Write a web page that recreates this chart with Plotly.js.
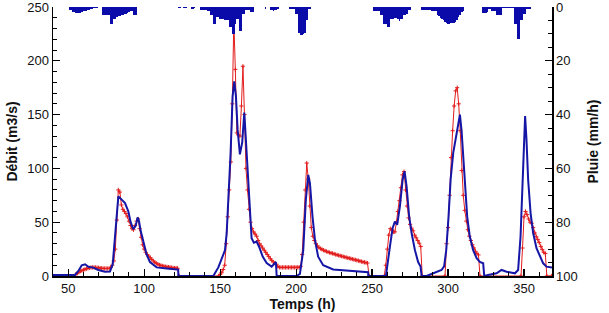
<!DOCTYPE html>
<html>
<head>
<meta charset="utf-8">
<script src="https://cdn.plot.ly/plotly-3.0.1.min.js"></script>
<style>html,body{margin:0;padding:0;background:#fff;}#chart{width:609px;height:313px;}</style>
</head>
<body>
<div id="chart"></div>
<script>
// Observed discharge (m3/s), hourly within events
var obsT = [40,54,
 55,56,57,58,59,60,61,62,63,64,65,66,67,68,69,70,71,72,73,74,75,76,77,78,79,80,81,82,83,84,85,86,87,88,89,90,91,92,93,94,95,96,97,98,99,100,101,102,103,104,105,106,107,108,109,110,111,112,113,114,115,116,117,118,119,120,121,122,
 123,149,
 150,151,152,153,154,155,156,157,158,159,160,161,162,163,164,165,166,167,168,169,170,171,172,173,174,175,176,177,178,179,180,181,182,183,184,185,186,187,188,189,190,191,192,193,194,195,196,197,198,199,200,201,202,203,204,205,206,207,208,209,210,211,212,213,214,215,216,217,218,219,220,221,222,223,224,225,226,227,228,229,230,231,232,233,234,235,236,237,238,239,240,241,242,243,244,245,246,247,
 248,258,
 259,260,261,262,263,264,265,266,267,268,269,270,271,272,273,274,275,276,277,278,279,280,281,282,
 283,298,
 299,300,301,302,303,304,305,306,307,308,309,310,311,312,313,314,315,316,317,318,319,320,
 321,348,
 349,350,351,352,353,354,355,356,357,358,359,360,361,362,363,364,
 365,368];
var obsQ = [0,0,
 1.5,2.5,3.5,4.5,5,5.6,6.2,6.8,7.2,7.6,7.9,8,8,8,7.8,7.6,7.4,7.2,7,7,7,7,7,8,10,14,25,52,80,78,66,62,60,58,55,51,47,44,43,47,51,53,44,36,29,25,22,20,18.5,17,15.5,14,12.8,11.8,11,10.3,9.8,9.4,9,8.7,8.5,8.3,8,7.8,7.6,7.4,7.3,7.2,
 0,0,
 1.5,3,6,10,30,55,80,106,160,237,192,133,131,130,158,195,150,100,80,62,50,44,41,39,37,33,30,28,26,24,22,20,18,16,14.5,13,12,11,9,8,8,8,8,8,8,8,8,8,8,8,8,8,8,9,20,50,80,105,90,65,45,37,33,30,28,26.5,25.5,24.8,24,23.4,22.8,22.3,21.8,21.3,21,20.5,20,19.6,19.2,18.8,18.4,18,17.6,17.2,16.8,16.5,16.1,15.7,15.3,15,14.6,14.2,13.8,13.4,13,12.7,12.4,12,
 0,0,
 10,25,38,44,43,41,41,50,60,70,82,94,97,80,65,54,48,44.5,42,38,35.5,33,30.5,27.5,
 0,0,
 30,45,75,110,135,158,172,175,160,135,98,75,61,51,43,37,33,29,26,23,21,19.6,
 0,0,
 26,55,60,57,53,50,49,45,40,36.5,34,31,27.5,24.5,22,21,
 0,0];

// Simulated discharge (m3/s)
var simT = [40,54.5,56.7,58.9,61.1,63.3,66.5,69.8,74.2,77.5,79.3,80.8,81.9,83,85.2,87.4,89.6,91.1,92.8,94.4,95.7,96.6,97.7,99.4,101.6,103.8,108.2,114.8,122.4,122.5,
 145.5,148.8,151,153.2,154.3,155.3,156.9,158.2,159.3,160.4,161.5,163,164.5,165.9,167,168.5,169.6,170.7,172.2,174,175.7,178,180.6,183.9,186.7,187.2,
 200.3,202.5,204.7,206.4,208,209.1,210.8,212.4,214.5,217.8,224.4,235.4,246.4,247.4,247.5,
 259.1,261.7,263.5,265,266.5,268.3,270.1,271.4,272.7,274.4,276,278.2,280.3,281.9,282.6,
 285.9,290.2,292.4,295.7,297.4,298.8,300.3,301.7,303.4,305.1,306.6,307.8,308.9,309.9,311.3,312.6,314.3,316.5,318.8,320.9,323.1,323.8,
 326.4,331.9,335.2,338.5,344,346.1,347.7,348.8,349.9,350.7,351.6,352.7,354.3,356,358.2,360.4,362.6,364.8,367,368.4];
var simQ = [1,1,4.7,10,10.9,8.5,7.8,5.6,4,4.2,11,35,60,74,71,67.7,60,50,43.5,46.6,54.4,51,42,31,20,13,8,7,6,0,
 0,8,15.5,24,40,68,115,167,181,167,136,113,124,152,124,80,52,35,31,32,27,18,12,8.7,13,0,
 0,2,24,71,94,86,55,33.6,18,10,6,5,3.7,3.5,0,
 0,27,44.5,50.7,47.6,64.6,89.5,97.3,83.3,55.3,40,24,13,8.7,0,
 0,2.5,4,5.6,9,24,55,90,114.5,130,142.4,150,134.6,111,80,55,36.7,24,16.5,13,11.8,0,
 1,2.5,5.6,4,2.5,5.6,36.7,83.3,130,148.6,127,89.5,58.5,40,25.8,18,11.8,8.7,8,8];

// Rainfall (mm/h), hourly
var rainT = [51,52,53,54,55,56,57,58,59,60,61,62,63,64,65,66,67,68,69,
 73,74,75,76,77,78,79,80,81,82,83,84,85,86,87,88,89,90,91,92,93,94,95,
 123,124,126,127,128,131,132,133,
 137,138,139,140,141,142,143,144,145,146,147,148,149,150,151,152,153,154,155,156,157,158,159,160,161,162,163,164,165,166,167,168,169,170,171,172,
 180,183,184,185,186,187,188,
 196,197,198,199,200,201,202,203,204,205,206,207,208,209,
 251,252,253,254,255,256,257,258,259,260,261,262,263,264,265,266,267,268,269,270,271,272,273,274,275,
 283,284,285,286,287,288,289,290,291,292,293,294,295,296,297,298,299,300,301,302,303,304,305,306,307,308,309,310,
 323,324,325,326,327,328,329,330,331,332,333,334,335,336,337,338,339,340,341,342,343,344,345,346,347,348,349,350,351,352,353,354];
var rainV = [1.2,1.2,1.9,1.9,2.2,2.2,2.2,2.2,2,1.5,1.5,1.3,1.2,1,0.6,0.6,0.3,0.3,0.3,
 2.8,2.8,3,3,3,6.3,6.3,4.3,4.3,3.8,3.3,3.3,3,2.8,2.6,2.5,2.2,2,1.6,1.5,3,3,2.8,
 0.3,0.3,0.3,0.3,0.3,0.6,0.6,0.3,
 1,1.2,1.2,1.2,1.2,1.3,1.5,3,3.1,6.2,6.2,3.7,3.7,4.4,4.4,4.4,5,5,5,7.5,7.5,10,10,6.2,4.4,4.4,9,9,2.5,2.5,1.2,1.2,1.2,1.9,1.9,1.9,
 0.6,1,1.2,1.5,1.2,1,0.8,
 0.6,0.6,0.6,0.6,2.5,2.5,9.5,10.5,10.5,10,9.5,5,0.6,0.6,
 1.5,1.5,1.5,1.5,1.5,3,3,6.5,6.5,7.5,7.5,4.5,4.5,4.5,4,4,4.5,5.2,4.4,4.4,3,2.8,2.5,1.2,1.2,
 1,1,1,1,1,1,1.5,1.5,1.5,1.5,3,3.5,4,4.5,5,5.5,6,6.2,6.2,6,6,6,5.5,5,3.7,3,1.9,1.5,
 2.3,2.3,2.3,2,0.6,0.6,1.5,1.5,1.5,2.8,2.8,2.8,2.8,0.5,0.5,0.5,0.3,0.3,0.3,0.3,0.3,6.5,6.5,11.9,11.9,5,5,2.5,2.5,0.6,0.6,0.6];

var BLUE = '#1515a6', RED = '#e31c1c', BAR = '#0b0baa';
var FONT = 'Liberation Sans, Arial, sans-serif';

var traces = [
  {type:'bar', x:rainT, y:rainV, width:1, xaxis:'x', yaxis:'y2',
   marker:{color:BAR, line:{width:0}}, hoverinfo:'skip', showlegend:false},
  {type:'scatter', mode:'lines+markers', x:obsT, y:obsQ, xaxis:'x', yaxis:'y',
   line:{color:RED, width:1},
   marker:{symbol:'cross-thin', size:3, color:RED, line:{color:RED, width:1}}, showlegend:false},
  {type:'scatter', mode:'lines', x:simT, y:simQ, xaxis:'x', yaxis:'y',
   line:{color:BLUE, width:2}, showlegend:false}
];

var tickFont = {family:FONT, size:13, color:'#111'};
var titleFont = {family:FONT, size:14, color:'#111'};

var layout = {
  width:609, height:313,
  margin:{l:53, r:57, t:7, b:37},
  paper_bgcolor:'#fff', plot_bgcolor:'#fff',
  showlegend:false, bargap:0,
  font:{family:FONT},
  xaxis:{range:[40,368.4], tick0:0, dtick:50, ticks:'inside', ticklen:7, tickwidth:1.2, tickcolor:'#000',
    minor:{ticks:'inside', dtick:10, ticklen:4, tickcolor:'#000', tickwidth:1},
    showline:true, linecolor:'#000', linewidth:1.5, showgrid:false, zeroline:false,
    ticklabeloverflow:'allow',
    tickfont:tickFont, title:{text:'<b>Temps (h)</b>', font:titleFont, standoff:3}},
  yaxis:{range:[0,250], dtick:50, ticks:'inside', ticklen:7, tickwidth:1.2, tickcolor:'#000',
    minor:{ticks:'inside', dtick:10, ticklen:4, tickcolor:'#000', tickwidth:1},
    showline:true, linecolor:'#000', linewidth:1.5, showgrid:false, zeroline:false,
    ticklabeloverflow:'allow',
    tickfont:tickFont, title:{text:'<b>Débit (m3/s)</b>', font:titleFont, standoff:6}},
  yaxis2:{overlaying:'y', side:'right', range:[100,0], dtick:20, ticks:'inside', ticklen:7, tickwidth:1.2, tickcolor:'#000',
    minor:{ticks:'inside', dtick:5, ticklen:4, tickcolor:'#000', tickwidth:1},
    showline:true, linecolor:'#000', linewidth:1.5, showgrid:false, zeroline:false,
    ticklabeloverflow:'allow',
    tickfont:tickFont, title:{text:'<b>Pluie (mm/h)</b>', font:titleFont, standoff:11}}
};

Plotly.newPlot('chart', traces, layout, {staticPlot:true, displayModeBar:false});
</script>
</body>
</html>
